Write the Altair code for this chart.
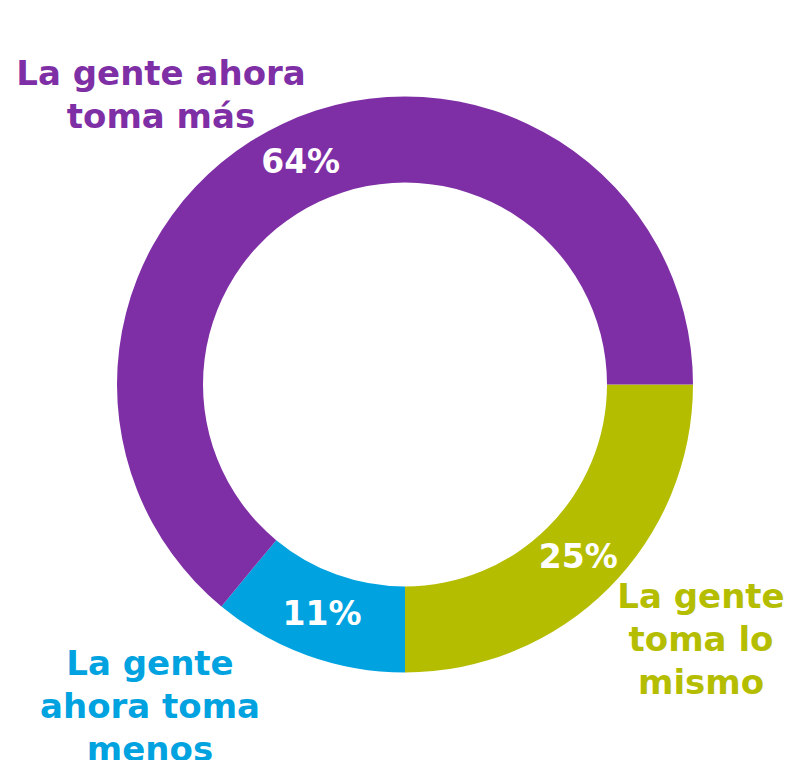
import altair as alt
import pandas as pd
import math

categories = ["La gente toma lo mismo", "La gente ahora toma menos", "La gente ahora toma más"]
values = [25, 11, 64]
pct_labels = ["25%", "11%", "64%"]
colors = ["#B5BD00", "#00A3DF", "#7F2FA5"]
order = [1, 2, 3]

df = pd.DataFrame({"cat": categories, "value": values, "pct": pct_labels, "ord": order})

CX, CY = 397, 376.5
FONT = "DejaVu Sans"

theta = alt.Theta("value:Q", stack=True, scale=alt.Scale(range=[math.pi / 2, math.pi / 2 + 2 * math.pi]))
color = alt.Color("cat:N", scale=alt.Scale(domain=categories, range=colors), legend=None)

base = alt.Chart(df).encode(theta=theta, order=alt.Order("ord:Q"))

arcs = base.mark_arc(outerRadius=288, innerRadius=202).encode(
    color=color, x=alt.value(CX), y=alt.value(CY)
)

pcts = base.mark_text(radius=245, font=FONT, fontWeight="bold", fontSize=33, color="white").encode(
    text="pct:N", x=alt.value(CX), y=alt.value(CY)
)

def label(text, color_, x, y):
    return alt.Chart(pd.DataFrame({"t": [text]})).mark_text(
        font=FONT, fontWeight="bold", fontSize=34, color=color_, lineBreak="\n",
        lineHeight=43, align="center", baseline="middle"
    ).encode(text="t:N", x=alt.value(x), y=alt.value(y))

lab_purple = label("La gente ahora\ntoma más", colors[2], 153, 67)
lab_green = label("La gente\ntoma lo\nmismo", colors[0], 693, 590)
lab_blue = label("La gente\nahora toma\nmenos", colors[1], 142, 657)

chart = alt.layer(arcs, pcts, lab_purple, lab_green, lab_blue).properties(
    width=777, height=752, autosize=alt.AutoSizeParams(type="none"), padding=0
).configure_view(stroke=None)

chart.save("out.html", embed_options={"renderer": "svg", "actions": False})
